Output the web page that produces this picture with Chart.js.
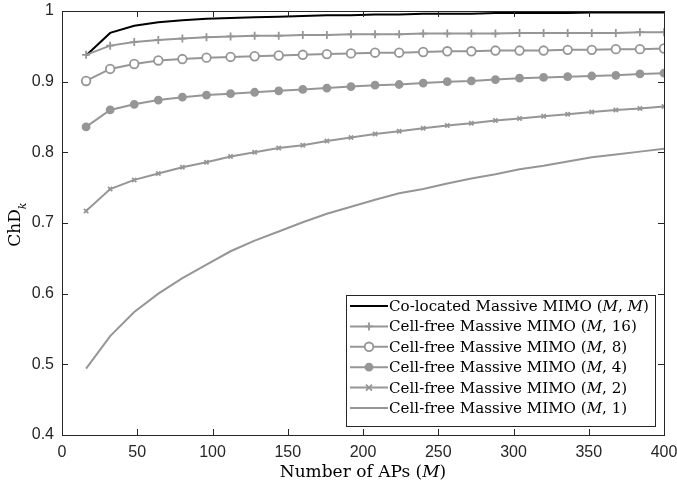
<!DOCTYPE html>
<html>
<head>
<meta charset="utf-8">
<script src="https://cdn.jsdelivr.net/npm/chart.js@4.4.0/dist/chart.umd.min.js"></script>
<style>
  html, body { margin: 0; padding: 0; background: #fff; }
  #wrap { width: 677px; height: 484px; }
</style>
</head>
<body>
<div id="wrap"><canvas id="chdChart" width="677" height="484"></canvas></div>
<script>
// number of APs on the x axis
var apCounts = [16, 32, 48, 64, 80, 96, 112, 128, 144, 160, 176, 192, 208,
                224, 240, 256, 272, 288, 304, 320, 336, 352, 368, 384, 400];

var colocated = [0.937, 0.969, 0.979, 0.984, 0.987, 0.989, 0.990, 0.991, 0.992, 0.993, 0.994, 0.994, 0.995,
                 0.995, 0.996, 0.996, 0.996, 0.997, 0.997, 0.997, 0.997, 0.998, 0.998, 0.998, 0.998];
var cellFree16 = [0.938, 0.951, 0.956, 0.959, 0.961, 0.963, 0.964, 0.965, 0.965, 0.966, 0.966, 0.967, 0.967,
                  0.967, 0.968, 0.968, 0.968, 0.968, 0.969, 0.969, 0.969, 0.969, 0.969, 0.970, 0.970];
var cellFree8 = [0.901, 0.918, 0.925, 0.930, 0.932, 0.934, 0.935, 0.936, 0.937, 0.938, 0.939, 0.940, 0.941,
                 0.941, 0.942, 0.943, 0.943, 0.944, 0.944, 0.944, 0.945, 0.945, 0.946, 0.946, 0.947];
var cellFree4 = [0.836, 0.860, 0.868, 0.874, 0.878, 0.881, 0.883, 0.885, 0.887, 0.889, 0.891, 0.893, 0.895,
                 0.896, 0.898, 0.900, 0.901, 0.903, 0.905, 0.906, 0.907, 0.908, 0.909, 0.911, 0.912];
var cellFree2 = [0.717, 0.748, 0.761, 0.770, 0.779, 0.786, 0.794, 0.800, 0.806, 0.810, 0.816, 0.821, 0.826,
                 0.830, 0.834, 0.838, 0.841, 0.845, 0.848, 0.851, 0.854, 0.857, 0.860, 0.862, 0.865];
var cellFree1 = [0.494, 0.540, 0.574, 0.600, 0.622, 0.641, 0.660, 0.675, 0.688, 0.701, 0.713, 0.723, 0.733,
                 0.742, 0.748, 0.756, 0.763, 0.769, 0.776, 0.781, 0.787, 0.793, 0.797, 0.801, 0.805];

var seriesNames = ['M', '16', '8', '4', '2', '1'];
var xTicks = [0, 50, 100, 150, 200, 250, 300, 350, 400];
var yTicks = [0.4, 0.5, 0.6, 0.7, 0.8, 0.9, 1];

var gray = 'rgb(150,150,150)';
var axisColor = '#262626';
var serif = '"DejaVu Serif"';

function pts(vals) {
    return apCounts.map(function (m, i) { return { x: m, y: vals[i] }; });
}

var seriesStyles = [
    { data: colocated, color: '#000', pointStyle: false, radius: 0, bg: '#000' },
    { data: cellFree16, color: gray, pointStyle: 'cross', radius: 4, bg: gray },
    { data: cellFree8, color: gray, pointStyle: 'circle', radius: 4.3, bg: '#fff' },
    { data: cellFree4, color: gray, pointStyle: 'circle', radius: 3.5, bg: gray },
    { data: cellFree2, color: gray, pointStyle: 'crossRot', radius: 3, bg: gray },
    { data: cellFree1, color: gray, pointStyle: false, radius: 0, bg: gray }
];

var datasets = seriesStyles.map(function (s, i) {
    return {
        label: 'Cell-free Massive MIMO (M, ' + seriesNames[i] + ')',
        data: pts(s.data),
        borderColor: s.color,
        backgroundColor: s.bg,
        borderWidth: 2,
        pointStyle: s.pointStyle,
        pointRadius: s.radius,
        pointBorderWidth: 1.8,
        pointBorderColor: s.color,
        pointBackgroundColor: s.bg,
        tension: 0
    };
}).reverse();

function drawMarker(ctx, style, x, y) {
    ctx.save();
    ctx.strokeStyle = style.color;
    ctx.fillStyle = style.bg;
    ctx.lineWidth = 1.8;
    var r = style.radius;
    if (style.pointStyle === 'cross') {
        ctx.beginPath();
        ctx.moveTo(x - r, y); ctx.lineTo(x + r, y);
        ctx.moveTo(x, y - r); ctx.lineTo(x, y + r);
        ctx.stroke();
    } else if (style.pointStyle === 'crossRot') {
        ctx.beginPath();
        ctx.moveTo(x - r, y - r); ctx.lineTo(x + r, y + r);
        ctx.moveTo(x - r, y + r); ctx.lineTo(x + r, y - r);
        ctx.stroke();
    } else if (style.pointStyle === 'circle') {
        ctx.beginPath();
        ctx.arc(x, y, r, 0, Math.PI * 2);
        ctx.fill();
        ctx.stroke();
    }
    ctx.restore();
}

// write a string where parts wrapped in {} are math italic
function drawRich(ctx, text, x, y, size) {
    text.split(/(\{[^}]*\})/).forEach(function (p) {
        if (!p) return;
        var it = p.charAt(0) === '{';
        if (it) p = p.slice(1, -1);
        ctx.font = (it ? 'italic ' : '') + size + 'px ' + serif;
        ctx.fillText(p, x, y);
        x += ctx.measureText(p).width;
    });
    return x;
}

function richWidth(ctx, text, size) {
    var w = 0;
    text.split(/(\{[^}]*\})/).forEach(function (p) {
        if (!p) return;
        var it = p.charAt(0) === '{';
        if (it) p = p.slice(1, -1);
        ctx.font = (it ? 'italic ' : '') + size + 'px ' + serif;
        w += ctx.measureText(p).width;
    });
    return w;
}

var legendTexts = [
    'Co-located Massive MIMO ({M}, {M})',
    'Cell-free Massive MIMO ({M}, 16)',
    'Cell-free Massive MIMO ({M}, 8)',
    'Cell-free Massive MIMO ({M}, 4)',
    'Cell-free Massive MIMO ({M}, 2)',
    'Cell-free Massive MIMO ({M}, 1)'
];

var matlabFrame = {
    id: 'matlabFrame',
    afterDraw: function (chart) {
        var ctx = chart.ctx;
        var a = chart.chartArea;
        var xs = chart.scales.x, ys = chart.scales.y;
        ctx.save();
        ctx.strokeStyle = axisColor;
        ctx.lineWidth = 1;
        ctx.strokeRect(a.left + 0.5, a.top + 0.5, a.right - a.left, a.bottom - a.top);
        ctx.beginPath();
        xTicks.forEach(function (v) {
            var px = Math.round(xs.getPixelForValue(v)) + 0.5;
            ctx.moveTo(px, a.bottom); ctx.lineTo(px, a.bottom - 6);
            ctx.moveTo(px, a.top); ctx.lineTo(px, a.top + 6);
        });
        yTicks.forEach(function (v) {
            var py = Math.round(ys.getPixelForValue(v)) + 0.5;
            ctx.moveTo(a.left, py); ctx.lineTo(a.left + 6, py);
            ctx.moveTo(a.right, py); ctx.lineTo(a.right - 6, py);
        });
        ctx.stroke();

        // legend box
        var size = 15.1;
        var bx = 346, by = 295, bw = 309, bh = 131;
        ctx.fillStyle = '#fff';
        ctx.fillRect(bx, by, bw, bh);
        ctx.strokeStyle = axisColor;
        ctx.strokeRect(bx + 0.5, by + 0.5, bw, bh);
        ctx.textBaseline = 'middle';
        legendTexts.forEach(function (t, i) {
            var st = seriesStyles[i];
            var y = by + 11 + i * 20.4;
            ctx.strokeStyle = st.color;
            ctx.lineWidth = 2;
            ctx.beginPath();
            ctx.moveTo(bx + 4, y); ctx.lineTo(bx + 42, y);
            ctx.stroke();
            drawMarker(ctx, st, bx + 23, y);
            ctx.fillStyle = '#000';
            drawRich(ctx, t, bx + 43, y + 1, size);
        });

        // axis titles
        ctx.fillStyle = '#000';
        ctx.textBaseline = 'middle';
        var xt = 'Number of APs ({M})';
        var w = richWidth(ctx, xt, 17);
        drawRich(ctx, xt, (a.left + a.right) / 2 - w / 2, 473, 17);

        ctx.translate(16, (a.top + a.bottom) / 2 + 2);
        ctx.rotate(-Math.PI / 2);
        ctx.font = '17px ' + serif;
        var tw = ctx.measureText('ChD').width;
        ctx.fillText('ChD', -tw / 2 - 3, 0);
        ctx.font = 'italic 11px ' + serif;
        ctx.fillText('k', tw / 2 - 3, 7);
        ctx.restore();
    }
};

var ctx = document.getElementById('chdChart').getContext('2d');
var chdChart = new Chart(ctx, {
    type: 'line',
    data: { datasets: datasets },
    options: {
        responsive: false,
        animation: false,
        layout: { padding: { top: 11, right: 13, left: 0, bottom: 0 } },
        plugins: { legend: { display: false }, tooltip: { enabled: false } },
        scales: {
            x: {
                type: 'linear',
                min: 0, max: 400,
                afterFit: function (s) { s.height = 49; s.paddingLeft = 0; s.paddingRight = 0; },
                afterBuildTicks: function (s) { s.ticks = xTicks.map(function (v) { return { value: v }; }); },
                grid: { display: false, drawTicks: false },
                border: { display: false },
                ticks: { color: axisColor, font: { family: '"Liberation Sans"', size: 16 }, padding: 8, maxRotation: 0 }
            },
            y: {
                min: 0.4, max: 1,
                afterFit: function (s) { s.width = 62; s.paddingTop = 0; s.paddingBottom = 0; },
                afterBuildTicks: function (s) { s.ticks = yTicks.map(function (v) { return { value: v }; }); },
                grid: { display: false, drawTicks: false },
                border: { display: false },
                ticks: {
                    color: axisColor, font: { family: '"Liberation Sans"', size: 16 }, padding: 8,
                    callback: function (v) { return String(Math.round(v * 10) / 10); }
                }
            }
        }
    },
    plugins: [matlabFrame]
});
</script>
</body>
</html>
